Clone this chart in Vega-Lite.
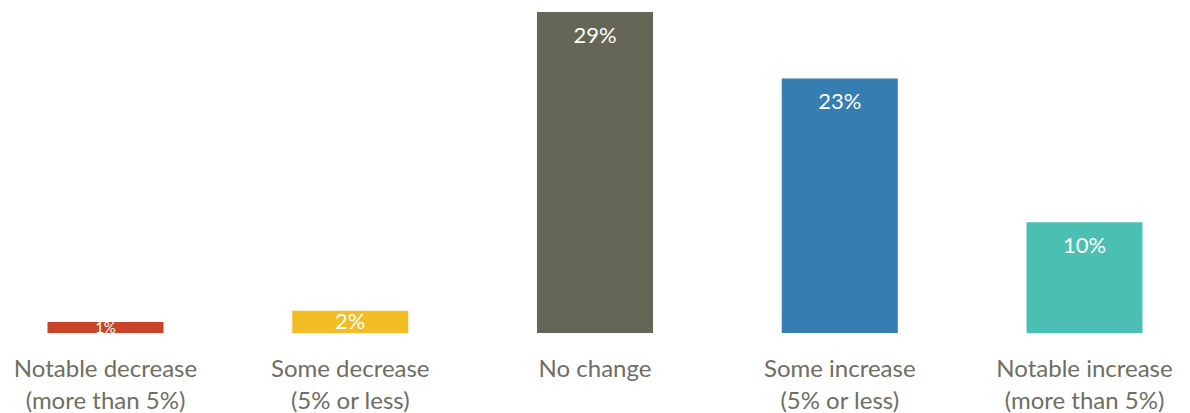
{
  "$schema": "https://vega.github.io/schema/vega-lite/v6.json",
  "width": 1190,
  "height": 333,
  "padding": 0,
  "background": "white",
  "config": {"view": {"stroke": null}, "font": "Lato"},
  "data": {"values": [
    {"cat": "Notable decrease|(more than 5%)", "value": 1, "label": "1%", "color": "#c8452a"},
    {"cat": "Some decrease|(5% or less)", "value": 2, "label": "2%", "color": "#f2bd25"},
    {"cat": "No change", "value": 29, "label": "29%", "color": "#666656"},
    {"cat": "Some increase|(5% or less)", "value": 23, "label": "23%", "color": "#367eb1"},
    {"cat": "Notable increase|(more than 5%)", "value": 10, "label": "10%", "color": "#4bbfb2"}
  ]},
  "encoding": {
    "x": {"field": "cat", "type": "nominal", "sort": null,
      "scale": {"paddingInner": 0.526, "paddingOuter": 0.194},
      "axis": {"title": null, "labelAngle": 0, "domain": false, "ticks": false,
        "labelExpr": "split(datum.label, '|')", "labelFontSize": 24, "labelFontWeight": 400, "labelColor": "#6e6e62",
        "labelLineHeight": 32, "labelPadding": 24, "labelFont": "Lato", "labelLimit": 400}},
    "y": {"field": "value", "type": "quantitative", "scale": {"domain": [0, 30.08], "nice": false}, "axis": null}
  },
  "layer": [
    {"mark": {"type": "bar"}, "encoding": {"color": {"field": "color", "type": "nominal", "scale": null}}},
    {"transform": [{"filter": "datum.value >= 5"}],
      "mark": {"type": "text", "color": "white", "fontSize": 22, "fontWeight": 400, "baseline": "middle", "dy": 24, "font": "Lato"},
      "encoding": {"text": {"field": "label"}}},
    {"transform": [{"filter": "datum.value == 2"}],
      "mark": {"type": "text", "color": "white", "fontSize": 22, "fontWeight": 400, "baseline": "middle", "dy": 11, "font": "Lato"},
      "encoding": {"text": {"field": "label"}}},
    {"transform": [{"filter": "datum.value == 1"}],
      "mark": {"type": "text", "color": "white", "fontSize": 15, "fontWeight": 400, "baseline": "middle", "dy": 6, "font": "Lato"},
      "encoding": {"text": {"field": "label"}}}
  ]
}
